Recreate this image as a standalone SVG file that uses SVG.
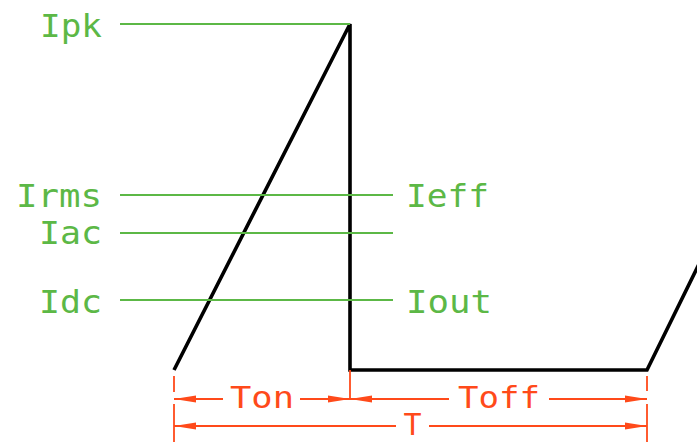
<svg xmlns="http://www.w3.org/2000/svg" width="697" height="442" viewBox="0 0 697 442">
<style>
.g{stroke:#5cb846;stroke-width:1.8;fill:none}
.gt{fill:#5cb846;font-family:"DejaVu Sans Mono",monospace;font-size:32px}
.r{stroke:#ff4a1a;stroke-width:1.8;fill:none}
.rt{fill:#ff4a1a;font-family:"DejaVu Sans Mono",monospace;font-size:30px}
.w{stroke:#000;stroke-width:3.6;fill:none;stroke-linejoin:miter}
</style>
<defs>
<marker id="ar" markerUnits="userSpaceOnUse" markerWidth="22" markerHeight="8" refX="22" refY="4" orient="auto">
<path d="M0,0.5 L22,4 L0,7.5 Z" fill="#ff4a1a"/>
</marker>
</defs>
<rect width="697" height="442" fill="#fff"/>
<g id="waveform">
<polyline class="w" points="174,370 350,24 350,370 647,370 700,262"/>
</g>
<g id="levels">
<line class="g" x1="120" y1="24" x2="350" y2="24"/>
<line class="g" x1="120" y1="195" x2="393" y2="195"/>
<line class="g" x1="120" y1="233" x2="393" y2="233"/>
<line class="g" x1="120" y1="300" x2="393" y2="300"/>
</g>
<g id="label-ipk"><text class="gt" x="40" y="37" textLength="62" lengthAdjust="spacingAndGlyphs">Ipk</text></g>
<g id="label-irms"><text class="gt" x="16" y="207" textLength="86" lengthAdjust="spacingAndGlyphs">Irms</text></g>
<g id="label-iac"><text class="gt" x="39" y="244" textLength="63" lengthAdjust="spacingAndGlyphs">Iac</text></g>
<g id="label-idc"><text class="gt" x="39" y="313" textLength="63" lengthAdjust="spacingAndGlyphs">Idc</text></g>
<g id="label-ieff"><text class="gt" x="406" y="207" textLength="83" lengthAdjust="spacingAndGlyphs">Ieff</text></g>
<g id="label-iout"><text class="gt" x="406" y="313" textLength="86" lengthAdjust="spacingAndGlyphs">Iout</text></g>
<g id="dimensions">
<line class="r" x1="174" y1="376" x2="174" y2="392"/>
<line class="r" x1="174" y1="404" x2="174" y2="442"/>
<line class="r" x1="647" y1="376" x2="647" y2="391"/>
<line class="r" x1="647" y1="404" x2="647" y2="442"/>
<line class="r" x1="350" y1="370" x2="350" y2="399"/>
<line class="r" x1="223" y1="399" x2="174" y2="399" marker-end="url(#ar)"/>
<line class="r" x1="300" y1="399" x2="350" y2="399" marker-end="url(#ar)"/>
<line class="r" x1="449" y1="399" x2="350" y2="399" marker-end="url(#ar)"/>
<line class="r" x1="549" y1="399" x2="647" y2="399" marker-end="url(#ar)"/>
<line class="r" x1="396" y1="426" x2="174" y2="426" marker-end="url(#ar)"/>
<line class="r" x1="429" y1="426" x2="647" y2="426" marker-end="url(#ar)"/>
</g>
<g id="label-ton"><text class="rt" x="230" y="408" textLength="64" lengthAdjust="spacingAndGlyphs">Ton</text></g>
<g id="label-toff"><text class="rt" x="458" y="408" textLength="82" lengthAdjust="spacingAndGlyphs">Toff</text></g>
<g id="label-t"><text class="rt" x="412.5" y="435" text-anchor="middle" font-size="29">T</text></g>
</svg>
